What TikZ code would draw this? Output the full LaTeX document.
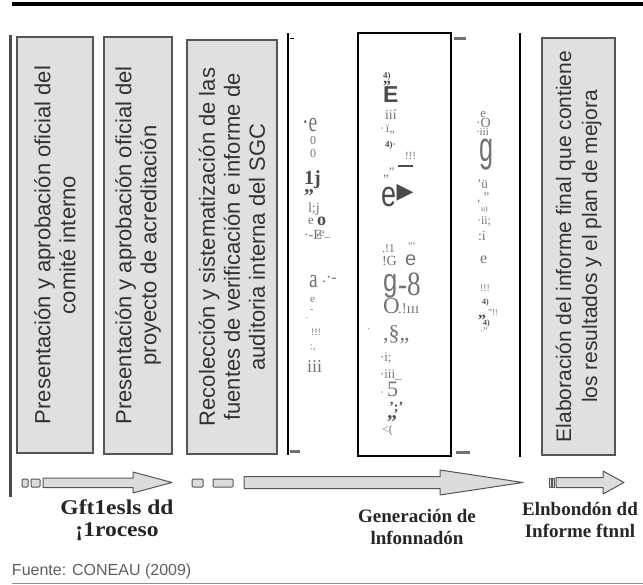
\documentclass[tikz,border=0pt]{standalone}
\usepackage{fontspec}
\setmainfont{Liberation Serif}
\newfontfamily\arialfont{Liberation Sans}
\newfontfamily\symfont{DejaVu Sans}
\usepackage{tikz}
\usetikzlibrary{positioning,calc}
\definecolor{myboxgrey}{RGB}{224,224,224}
\definecolor{myedgegrey}{RGB}{85,85,85}
\definecolor{mytextgrey}{RGB}{50,50,50}
\definecolor{myocrgrey}{RGB}{115,115,115}
\definecolor{myocrdark}{RGB}{75,75,75}
\definecolor{myarrowgrey}{RGB}{220,220,220}
\definecolor{mysrcgrey}{RGB}{95,95,95}
\newcommand\fsz[1]{\fontsize{#1}{#1}\selectfont}
\newcommand\ocrstack[1]{\vbox{\baselineskip-1000pt\lineskip1pt\lineskiplimit0pt\halign{##\hfil\cr#1\crcr}}}

\begin{document}
\begin{tikzpicture}[x=1pt,y=-1pt,outer sep=0pt,
            greyb/.style={
                draw=myedgegrey,
                line width=1.2pt,
                fill=myboxgrey,
                rotate=90,
                inner sep=0pt,
                align=center,
                text=mytextgrey,
            font={\arialfont\fontsize{22}{25}\selectfont}},
            genb/.style={draw=black,line width=1.3pt,fill=none,inner sep=0pt},
            ocrb/.style={anchor=base west,inner sep=0pt,text=myocrgrey,font=\fsz{12}},
            ocrdarkb/.style={ocrb,text=myocrdark},
            arrowb/.style={draw=myedgegrey,line width=1pt,fill=myarrowgrey,line join=round},
            labelb/.style={align=center,inner sep=0pt,text=black!85,
            font={\bfseries\fontsize{19}{22}\selectfont}},
            dashb/.style={draw=myocrgrey,line width=3pt},
        ]

        \useasboundingbox (0,0) rectangle (643,585);

        % frame lines
        \draw[line width=4pt] (12,4.5) -- (643,4.5);
        \draw[line width=3pt,draw=myocrdark] (10,35) -- (10,497);
        \draw[line width=1.3pt] (288,33) -- (288,455);
        \draw[line width=1.3pt] (520,33) -- (520,457);
        \draw[line width=0.8pt] (290,38) -- (294,38);
        \draw[dashb] (454,39) -- (466,39);
        \draw[dashb] (290,451) -- (300,451);
        \draw[dashb] (456,452) -- (470,452);

        % process boxes
        \node[greyb,minimum width=416,minimum height=76] (Pres1) at (55,245) {Presentación y aprobación oficial del\\comité interno};
        \node[greyb,minimum width=417,minimum height=68] (Pres2) at (138,245.5) {Presentación y aprobación oficial del\\proyecto de acreditación};
        \node[greyb,minimum width=414,minimum height=90] (Recol) at (232,247) {Recolección y sistematización de las\\fuentes de verificación e informe de\\auditoria interna del SGC};
        \node[genb,minimum width=93,minimum height=423] (Gen) at (404.5,244.5) {};
        \node[greyb,minimum width=417,minimum height=73,font={\arialfont\fontsize{21}{26}\selectfont}] (Elab) at (578.5,246.5) {Elaboración del informe final que contiene\\los resultados y el plan de mejora};

        % scanned column left of the frame
        \node[ocrb,font=\fsz{28},transform shape,xscale=0.7] (ColA1) at (302,132) {·e};
        \node[ocrb] (ColA2) at (310,145) {0};
        \node[ocrb] (ColA3) at (310,158) {0};
        \node[ocrdarkb,font=\bfseries] (ColA4) at (304,193) {\ocrstack{\fsz{20}1j\cr\fsz{20},,}};
        \node[ocrb,font=\fsz{14}] (ColA6) at (308,213) {l;j};
        \node[ocrb,font=\fsz{13}] (ColA7) at (308,225) {e};
        \node[ocrdarkb,font=\bfseries\fsz{18}] (ColA8) at (317,226) {o};
        \node[ocrb,font=\fsz{14}] (ColA9) at (304,240) {·-E};
        \node[ocrb,font=\fsz{12}] (ColA10) at (316,237) {,e\_};
        \node[ocrb,font=\fsz{26},transform shape,xscale=0.75] (ColA11) at (309,288) {a};
        \node[ocrb,font=\fsz{16}] (ColA12) at (322,283) {.·-};
        \node[ocrb,font=\fsz{11}] (ColA13) at (310,303) {e};
        \node[ocrb,font=\fsz{10}] (ColA14) at (310,313) {-};
        \node[ocrb,font=\fsz{10}] (ColA15) at (305,322) {·};
        \node[ocrb,font=\fsz{10}] (ColA16) at (311,336) {!!!};
        \node[ocrb,font=\fsz{10}] (ColA17) at (310,350) {:,};
        \node[ocrb,font=\fsz{18}] (ColA18) at (307,373) {iii};

        % scanned column in the frame
        \node[ocrdarkb,font=\bfseries] (ColB1) at (383,103) {\ocrstack{\fsz{9}4)\cr\fsz{16},,\cr\arialfont\fsz{23}E}};
        \node[ocrb,font=\fsz{14}] (ColB4) at (385,120) {iií};
        \node[ocrb,font=\fsz{12}] (ColB5) at (380,133) {·\,ï,,};
        \node[ocrdarkb,font=\bfseries\fsz{9}] (ColB6) at (385,148) {4)·};
        \node[ocrb,font=\fsz{11}] (ColB7) at (405,160) {!!!};
        \draw[myocrdark,line width=1.5pt] (398,166) -- (413,166);
        \node[ocrb,font=\fsz{13}] (ColB8) at (383,177) {,,”};
        \node[ocrdarkb,font=\arialfont\fsz{36},transform shape,xscale=0.75] (ColB9) at (381,207) {e};
        \node[anchor=center,inner sep=0pt,text=myocrdark,font=\symfont\fsz{22}] (ColB10) at (405,193) {▶};
        \node[ocrb,font=\fsz{12}] (ColB11) at (382,253) {.!1};
        \node[ocrb,font=\fsz{10}] (ColB12) at (408,250) {'''};
        \node[ocrb,font=\fsz{14}] (ColB13) at (382,266) {!G};
        \node[ocrb,font=\arialfont\fsz{20}] (ColB14) at (405,266) {e};
        \node[ocrb,font=\arialfont\fsz{32},transform shape,xscale=0.8] (ColB15) at (383,292) {g};
        \node[ocrb,font=\fsz{34},transform shape,xscale=0.8] (ColB16) at (398,296) {-8};
        \node[ocrb,font=\fsz{23}] (ColB17) at (383,314) {O};
        \node[ocrb,font=\fsz{15}] (ColB18) at (398,314) {.!ııı};
        \node[ocrb,font=\fsz{10}] (ColB19) at (367,333) {·};
        \node[ocrb,font=\fsz{22}] (ColB20) at (383,341) {,§,,};
        \node[ocrb,font=\fsz{13}] (ColB21) at (380,362) {·i;};
        \node[ocrb,font=\fsz{13}] (ColB22) at (380,379) {·iii\_};
        \node[ocrb,font=\fsz{12}] (ColB23) at (380,396) {·};
        \node[ocrb,font=\fsz{22}] (ColB24) at (387,397) {5};
        \node[ocrdarkb,font=\bfseries] (ColB25) at (387,418) {\ocrstack{\fsz{14}\,’;’\cr\fsz{20},,}};
        \node[ocrb,font=\fsz{12}] (ColB27) at (382,434) {<(};

        % scanned column right of the frame
        \node[ocrb] (ColC1) at (476,136) {\ocrstack{\fsz{13}\,\,e\cr\fsz{14}·O\cr\fsz{11}·iii}};
        \node[ocrb,font=\arialfont\fsz{42},transform shape,xscale=0.6] (ColC4) at (479,162) {g};
        \node[ocrb,font=\fsz{13}] (ColC5) at (477,189) {'ü};
        \node[ocrb,font=\fsz{13}] (ColC6) at (477,202) {, ”};
        \node[ocrb,font=\fsz{8}] (ColC7) at (481,212) {u)};
        \node[ocrb,font=\fsz{12}] (ColC8) at (477,225) {·ii;};
        \node[ocrb,font=\fsz{14}] (ColC9) at (478,241) {:i};
        \node[ocrb,font=\fsz{16}] (ColC10) at (480,264) {e};
        \node[ocrb,font=\fsz{10}] (ColC11) at (480,292) {!!!};
        \node[ocrdarkb,font=\bfseries\fsz{8}] (ColC12) at (482,305) {4)};
        \node[ocrdarkb,font=\bfseries\fsz{16}] (ColC13) at (478,318) {,,};
        \node[ocrb,font=\fsz{9}] (ColC14) at (488,316) {”!!};
        \node[ocrdarkb,font=\bfseries\fsz{8}] (ColC15) at (483,326) {4)};
        \node[ocrb,font=\fsz{10}] (ColC16) at (480,335) {·”};

        % block arrows
        \draw[arrowb,rounded corners=1pt] (22,479) rectangle (28,487);
        \draw[arrowb,rounded corners=1pt] (31,479) rectangle (40,487);
        \draw[arrowb] (43,478) -- (133,478) -- (133,472) -- (172,482.5) -- (133,493) -- (133,487.5) -- (43,487.5) -- cycle;
        \draw[arrowb,rounded corners=1pt] (192,479) rectangle (203,487);
        \draw[arrowb,rounded corners=1pt] (213,479) rectangle (233,487);
        \draw[arrowb] (244,476.5) -- (440,476.5) -- (440,470) -- (523,482.5) -- (440,495) -- (440,488.5) -- (244,488.5) -- cycle;
        \draw[arrowb] (549,478) rectangle (551,487);
        \draw[arrowb] (552,478) rectangle (554,487);
        \draw[arrowb] (556,477.5) -- (603,477.5) -- (603,471) -- (624,482.5) -- (603,494) -- (603,487.5) -- (556,487.5) -- cycle;

        % phase labels
        \node[labelb,font={\bfseries\fontsize{21}{22}\selectfont},transform shape,xscale=1.12] (LblProc) at (117,520) {Gft1esls dd\\¡1roceso};
        \node[labelb] (LblGen) at (417,527) {Generación de\\lnfonnadón};
        \node[labelb] (LblInf) at (580,520) {Elnbondón dd\\Informe ftnnl};

        \node[anchor=base west,inner sep=0pt,text=mysrcgrey,font=\arialfont\fsz{16}] (Src) at (12,575) {Fuente: CONEAU (2009)};
        \draw[draw=mysrcgrey!70,line width=1pt] (12,583) -- (643,583);
    \end{tikzpicture}
\end{document}
